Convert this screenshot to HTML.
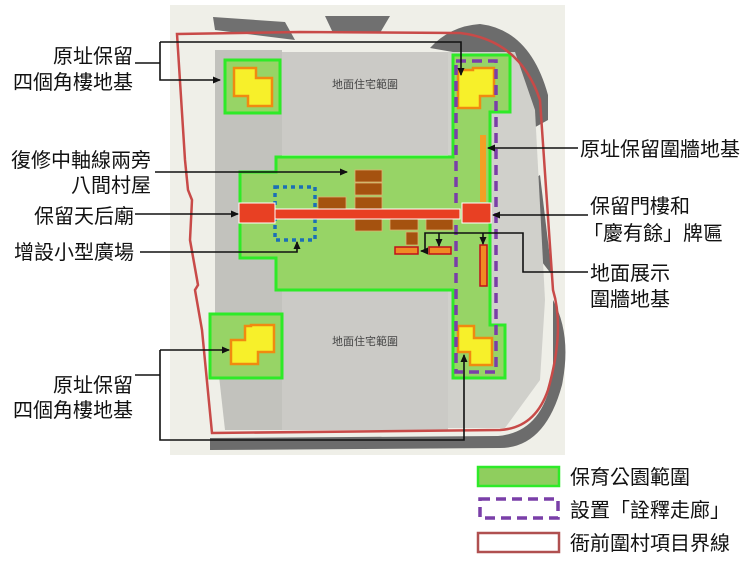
<!DOCTYPE html>
<html><head><meta charset="utf-8"><style>
html,body{margin:0;padding:0;background:#fff;}
svg{display:block;}
text{font-family:"Liberation Sans","Noto Sans CJK TC",sans-serif;font-size:20px;fill:#111;}
</style></head><body>
<svg width="750" height="563" viewBox="0 0 750 563" xmlns="http://www.w3.org/2000/svg">
<defs>
<marker id="ar" markerWidth="8" markerHeight="8" refX="7" refY="4" orient="auto" markerUnits="userSpaceOnUse"><path d="M0,0.5 L8,4 L0,7.5 Z" fill="#111"/></marker>
</defs>
<rect x="170" y="5" width="395" height="450" fill="#efefe8"/>
<!-- dark road band -->
<path d="M213,17 L285,22 L295,40 L215,30 Z" fill="#707070"/>
<path d="M325,16 L390,16 L380,33 L333,33 Z" fill="#707070"/>
<path d="M430,48 Q450,26 480,24 Q530,30 548,95 L548,120 L530,130 Q518,70 470,55 Z" fill="#6c6c6c"/>
<path d="M540,175 L530,182 L542,262 L552,275 Z" fill="#6c6c6c"/>
<path d="M553,300 Q572,335 562,385 Q545,448 500,448 L210,450 L210,438 L498,436 Q545,432 553,370 Z" fill="#6c6c6c"/>
<!-- inner gray paths -->
<path d="M215,50 L282,50 L282,430 L225,430 L215,340 Z" fill="#c2c2bd"/>
<path d="M448,52 L515,52 L535,110 L545,300 L540,380 L505,428 L448,428 Z" fill="#d0d0cb"/>
<rect x="282" y="52" width="166" height="103" fill="#cbcac6"/>
<rect x="282" y="290" width="166" height="140" fill="#cbcac6"/>
<text x="365" y="88" text-anchor="middle" style="font-size:11px;fill:#444">地面住宅範圍</text>
<text x="365" y="345" text-anchor="middle" style="font-size:11px;fill:#444">地面住宅範圍</text>
<!-- green park -->
<path d="M276,157 L453,157 L453,55 L510,55 L510,112 L490,112 L490,325 L505,325 L505,378 L453,378 L453,290 L276,290 L276,258 L240,258 L240,172 L276,172 Z" fill="#97d466" stroke="#2eea28" stroke-width="3"/>
<rect x="225" y="60" width="55" height="53" fill="#97d466" stroke="#2eea28" stroke-width="3"/>
<rect x="210" y="314" width="72" height="64" fill="#97d466" stroke="#2eea28" stroke-width="3"/>
<path d="M234,68 L256,68 L256,78 L272,78 L272,106 L248,106 L248,96 L234,96 Z" fill="#f7f02a" stroke="#f08a10" stroke-width="2.5"/>
<path d="M458,70 L473,70 L473,68 L494,68 L494,96 L480,96 L480,108 L458,108 Z" fill="#f7f02a" stroke="#f08a10" stroke-width="2.5"/>
<path d="M245,326 L251,326 L251,325 L274,325 L274,352 L258,352 L258,364 L231,364 L231,340 L245,340 Z" fill="#f7f02a" stroke="#f08a10" stroke-width="2.5"/>
<path d="M458,326 L474,326 L474,338 L492,338 L492,365 L470,365 L470,352 L458,352 Z" fill="#f7f02a" stroke="#f08a10" stroke-width="2.5"/>
<rect x="456" y="61" width="40" height="311" fill="none" stroke="#7a3fa8" stroke-width="3.5" stroke-dasharray="10,6"/>
<rect x="480" y="135" width="6" height="67" fill="#f3a024"/>
<rect x="275" y="187" width="40" height="53" fill="none" stroke="#1b6fb5" stroke-width="3.5" stroke-dasharray="4,4"/>
<g fill="#a5520f" stroke="#e0b070" stroke-width="0.8">
<rect x="355" y="170" width="27" height="12"/><rect x="355" y="183" width="27" height="12"/><rect x="355" y="197" width="27" height="12"/><rect x="355" y="219" width="27" height="12"/>
<rect x="318" y="197" width="28" height="12"/>
<rect x="390" y="219" width="28" height="11"/><rect x="426" y="219" width="27" height="11"/>
<rect x="406" y="232" width="12" height="13"/>
</g>
<rect x="275" y="209" width="185" height="10" fill="#e84023" stroke="#fff" stroke-width="1"/>
<rect x="239" y="203" width="36" height="20" fill="#e84023" stroke="#fff" stroke-width="1"/>
<rect x="462" y="203" width="29" height="20" fill="#e84023" stroke="#fff" stroke-width="1"/>
<rect x="395" y="247" width="23" height="7" fill="#f08a24" stroke="#c0101a" stroke-width="1.5"/>
<rect x="429" y="247" width="22" height="7" fill="#f08a24" stroke="#c0101a" stroke-width="1.5"/>
<rect x="480" y="245" width="7" height="41" fill="#f08a24" stroke="#c0101a" stroke-width="1.5"/>
<path d="M177,34 L300,32 L460,33 Q520,40 540,100 L553,290 Q565,330 548,390 Q535,428 500,430 L212,433 L202,330 L195,290 L198,285 L190,240 L192,200 L188,190 L185,160 Z" fill="none" stroke="#c84a48" stroke-width="2.5"/>
<g stroke="#111" stroke-width="1.6" fill="none">
<polyline points="135,63 160,63"/>
<polyline points="160,42 160,80 220,80" marker-end="url(#ar)"/>
<polyline points="160,42 461,42 461,75" marker-end="url(#ar)"/>
<polyline points="155,172 347,172" marker-end="url(#ar)"/>
<polyline points="135,214 238,214" marker-end="url(#ar)"/>
<polyline points="140,252 297,252 297,242" marker-end="url(#ar)"/>
<polyline points="578,148 488,148" marker-end="url(#ar)"/>
<polyline points="588,215 493,215" marker-end="url(#ar)"/>
<polyline points="588,272 523,272 523,233 425,233 425,251 421,251" marker-end="url(#ar)"/>
<polyline points="439,233 439,246" marker-end="url(#ar)"/>
<polyline points="483,233 483,244" marker-end="url(#ar)"/>
<polyline points="135,375 160,375"/>
<polyline points="160,350 160,440 464,440 464,355" marker-end="url(#ar)"/>
<polyline points="160,350 229,350" marker-end="url(#ar)"/>
</g>
<g text-anchor="end">
<text x="133" y="63">原址保留</text>
<text x="133" y="89">四個角樓地基</text>
<text x="151" y="167">復修中軸線兩旁</text>
<text x="151" y="192">八間村屋</text>
<text x="134" y="223">保留天后廟</text>
<text x="134" y="259">增設小型廣場</text>
<text x="133" y="392">原址保留</text>
<text x="133" y="417">四個角樓地基</text>
</g>
<text x="580" y="156">原址保留圍牆地基</text>
<text x="590" y="213">保留門樓和</text>
<text x="583" y="240">「慶有餘」牌匾</text>
<text x="590" y="280">地面展示</text>
<text x="590" y="306">圍牆地基</text>
<rect x="478" y="467" width="81" height="19" fill="#8fce5e" stroke="#2eea28" stroke-width="2.5"/>
<rect x="480" y="499" width="78" height="19" fill="none" stroke="#7a3fa8" stroke-width="3.5" stroke-dasharray="10,6"/>
<rect x="478" y="533" width="81" height="19" fill="#fff" stroke="#b05050" stroke-width="2.5"/>
<text x="570" y="484">保育公園範圍</text>
<text x="570" y="517">設置「詮釋走廊」</text>
<text x="570" y="550">衙前圍村項目界線</text>
</svg>
</body></html>
